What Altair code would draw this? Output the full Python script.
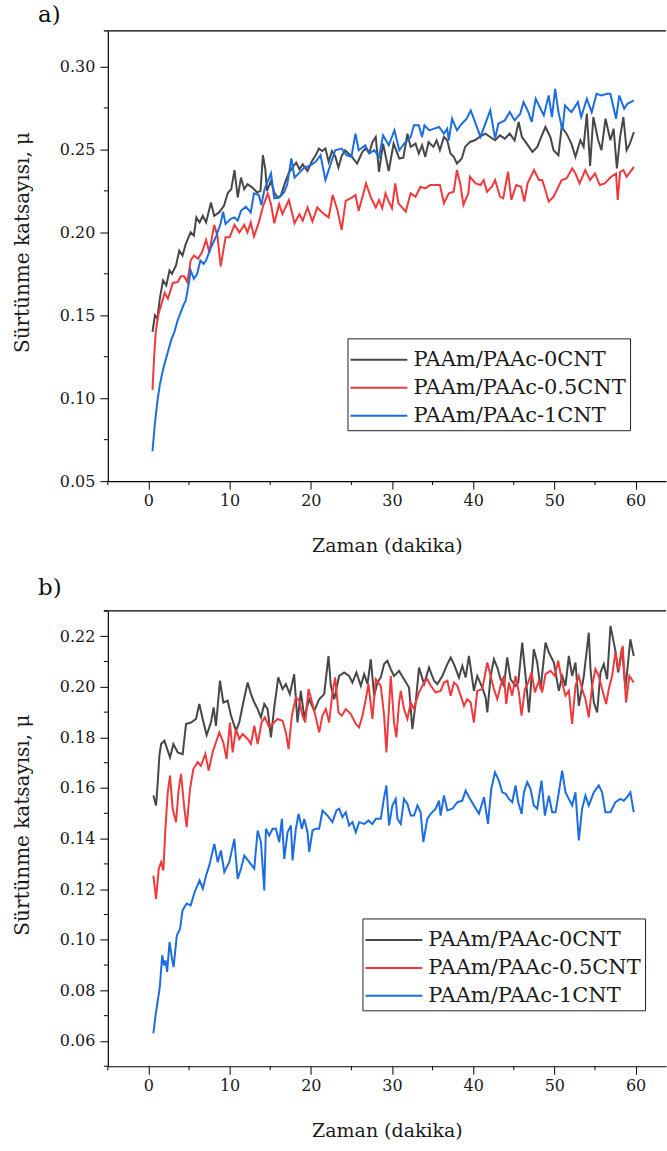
import altair as alt
import pandas as pd

SERIES = ["PAAm/PAAc-0CNT", "PAAm/PAAc-0.5CNT", "PAAm/PAAc-1CNT"]
COLORS = ["#474747", "#ef3a3d", "#1c6ee0"]
FONT = "DejaVu Serif"

# ---------------- panel a) ----------------
a_t_0 = [0.5, 0.8, 1.1, 1.4, 1.8, 2.2, 2.6, 2.9, 3.4, 3.8, 4.2, 4.6, 5.2, 5.6, 5.9, 6.3, 6.7, 7.1, 7.7, 8.1,
         8.7, 9.3, 9.8, 10.2, 10.6, 11.0, 11.4, 11.8, 12.2, 12.8, 13.4, 13.8, 14.1, 14.4, 14.6, 15.1, 15.5, 15.9, 16.3, 16.9,
         17.3, 17.8, 18.2, 18.6, 19.0, 19.6, 20.2, 20.6, 21.0, 21.4, 21.8, 22.2, 22.6, 23.0, 23.4, 23.8, 24.2, 24.9, 25.7, 26.3,
         26.7, 27.2, 27.6, 28.0, 28.4, 28.9, 29.6, 30.2, 30.9, 31.4, 31.9, 32.3, 32.9, 33.3, 33.7, 34.1, 34.5, 35.1, 35.5, 35.9,
         36.4, 36.8, 37.2, 37.6, 38.0, 38.6, 39.0, 39.6, 40.2, 40.8, 41.5, 42.1, 42.7, 43.3, 43.9, 44.5, 45.1, 45.6, 46.0, 46.6,
         47.3, 47.9, 48.3, 48.9, 49.5, 49.9, 50.5, 50.9, 51.5, 52.1, 52.6, 53.2, 53.6, 54.0, 54.4, 54.8, 55.4, 55.8, 56.3, 56.9,
         57.3, 57.7, 58.1, 58.5, 58.9, 59.3, 59.8]
a_mu_0 = [0.140, 0.150, 0.148, 0.160, 0.171, 0.168, 0.177, 0.175, 0.180, 0.189, 0.186, 0.193, 0.200, 0.198, 0.209, 0.206, 0.210, 0.206, 0.218, 0.210,
          0.212, 0.216, 0.224, 0.226, 0.2375, 0.221, 0.233, 0.226, 0.229, 0.227, 0.224, 0.225, 0.2465, 0.238, 0.225, 0.231, 0.224, 0.221, 0.222, 0.231,
          0.236, 0.2395, 0.242, 0.238, 0.241, 0.237, 0.2435, 0.2465, 0.2505, 0.249, 0.2505, 0.2425, 0.249, 0.246, 0.239, 0.246, 0.2495, 0.2465, 0.2415, 0.248,
          0.2505, 0.248, 0.2545, 0.2575, 0.2365, 0.2535, 0.237, 0.2535, 0.2445, 0.245, 0.2595, 0.2515, 0.2535, 0.2475, 0.2525, 0.2455, 0.2545, 0.2515, 0.2555, 0.2495,
          0.2575, 0.2555, 0.2475, 0.2455, 0.2415, 0.2445, 0.2515, 0.2545, 0.2555, 0.2575, 0.2595, 0.2575, 0.2555, 0.2585, 0.2565, 0.2595, 0.2555, 0.2665, 0.2575, 0.2535,
          0.2485, 0.2515, 0.2565, 0.2635, 0.2575, 0.2495, 0.2465, 0.2635, 0.2595, 0.2535, 0.2455, 0.2555, 0.2515, 0.2715, 0.2400, 0.2695, 0.2555, 0.2495, 0.2685, 0.2555,
          0.2625, 0.2385, 0.2575, 0.2695, 0.2495, 0.2535, 0.2605]

a_t_05 = [0.5, 0.7, 0.9, 1.2, 1.5, 2.0, 2.4, 3.0, 3.6, 4.0, 4.4, 4.8, 5.2, 5.6, 6.1, 6.6, 7.1, 7.5, 8.1, 8.5,
          8.9, 9.5, 10.0, 10.6, 11.2, 11.8, 12.2, 12.6, 13.0, 13.6, 14.1, 14.7, 15.1, 15.5, 16.1, 16.5, 17.3, 18.0, 18.6, 19.0,
          19.6, 20.2, 20.8, 21.4, 22.2, 22.7, 23.3, 23.8, 24.3, 25.1, 25.5, 25.9, 26.8, 27.4, 28.0, 28.4, 28.8, 29.2, 29.6, 30.0,
          30.4, 30.8, 31.7, 32.3, 32.9, 33.5, 34.1, 34.7, 35.3, 35.9, 36.4, 37.0, 37.6, 38.0, 38.4, 38.8, 39.4, 39.6, 40.3, 40.9,
          41.3, 41.7, 42.3, 42.7, 43.3, 43.7, 44.3, 44.7, 45.3, 45.9, 46.3, 46.7, 47.5, 48.1, 48.5, 48.9, 49.3, 49.9, 50.5, 50.9,
          51.5, 52.2, 52.6, 53.1, 53.8, 54.4, 55.0, 55.6, 56.2, 57.0, 57.6, 57.8, 58.1, 58.5, 58.9, 59.8]
a_mu_05 = [0.105, 0.125, 0.140, 0.150, 0.155, 0.1635, 0.160, 0.1695, 0.170, 0.1735, 0.1735, 0.170, 0.183, 0.186, 0.184, 0.188, 0.1955, 0.188, 0.2045, 0.198,
           0.1795, 0.197, 0.197, 0.2045, 0.200, 0.2045, 0.200, 0.206, 0.1975, 0.206, 0.2155, 0.2235, 0.217, 0.2055, 0.217, 0.211, 0.2195, 0.2055, 0.211, 0.207,
           0.215, 0.2065, 0.215, 0.212, 0.209, 0.2225, 0.213, 0.2015, 0.219, 0.221, 0.2225, 0.213, 0.2295, 0.221, 0.215, 0.2195, 0.2145, 0.2235, 0.2185, 0.2145,
           0.2295, 0.2175, 0.2125, 0.2235, 0.2215, 0.2275, 0.2265, 0.2285, 0.2285, 0.2285, 0.2175, 0.2235, 0.2245, 0.2375, 0.2295, 0.2165, 0.2235, 0.2335, 0.2295, 0.2285,
           0.2315, 0.2245, 0.2275, 0.2315, 0.2215, 0.2205, 0.2365, 0.2195, 0.2285, 0.2275, 0.2185, 0.2295, 0.2375, 0.2315, 0.2315, 0.2255, 0.2185, 0.2215, 0.2275, 0.2315,
           0.2325, 0.2385, 0.2355, 0.2295, 0.2375, 0.2315, 0.2355, 0.2285, 0.2295, 0.2335, 0.2355, 0.2195, 0.2365, 0.2375, 0.2335, 0.2395]

a_t_1 = [0.5, 0.8, 1.1, 1.4, 1.7, 2.0, 2.4, 2.8, 3.2, 3.6, 4.0, 4.3, 4.6, 5.0, 5.2, 5.6, 6.0, 6.4, 6.8, 7.1,
         7.7, 8.3, 8.9, 9.2, 9.5, 10.1, 10.6, 11.0, 11.4, 12.0, 12.6, 13.0, 13.6, 13.9, 14.3, 15.1, 15.5, 16.1, 16.7, 17.1,
         17.6, 18.0, 18.6, 19.2, 19.8, 20.6, 21.2, 21.8, 22.2, 23.0, 23.8, 24.4, 25.0, 25.5, 25.9, 26.7, 27.2, 27.8, 28.4, 28.9,
         29.6, 30.3, 30.9, 31.5, 32.3, 32.7, 33.3, 33.7, 34.0, 34.6, 35.2, 35.8, 36.4, 36.8, 37.0, 37.4, 38.0, 38.6, 39.2, 39.7,
         40.3, 40.9, 41.5, 42.1, 42.7, 43.1, 43.9, 44.5, 45.1, 45.8, 46.2, 46.8, 47.2, 47.7, 48.3, 48.7, 49.3, 49.7, 50.1, 50.5,
         51.0, 51.3, 52.1, 52.9, 53.3, 54.0, 54.6, 55.2, 55.8, 56.5, 56.9, 57.6, 58.0, 58.6, 59.0, 59.8]
a_mu_1 = [0.068, 0.085, 0.098, 0.108, 0.115, 0.121, 0.128, 0.135, 0.140, 0.147, 0.152, 0.156, 0.159, 0.170, 0.177, 0.172, 0.175, 0.183, 0.181, 0.183,
          0.191, 0.197, 0.2055, 0.2125, 0.205, 0.208, 0.209, 0.207, 0.213, 0.2155, 0.212, 0.2235, 0.2225, 0.2165, 0.226, 0.2355, 0.2205, 0.221, 0.224, 0.229,
          0.2445, 0.233, 0.236, 0.239, 0.240, 0.2425, 0.2465, 0.2315, 0.2375, 0.2495, 0.2505, 0.2465, 0.2455, 0.2595, 0.2495, 0.2525, 0.2475, 0.2495, 0.2455, 0.2585,
          0.2525, 0.2615, 0.2495, 0.2535, 0.2575, 0.2645, 0.2645, 0.2575, 0.2645, 0.2615, 0.2625, 0.2635, 0.2595, 0.2625, 0.2555, 0.2685, 0.2615, 0.2655, 0.2685, 0.2735,
          0.2655, 0.2575, 0.2655, 0.2735, 0.2565, 0.2655, 0.2675, 0.2725, 0.2675, 0.2715, 0.2785, 0.2725, 0.2665, 0.2805, 0.2745, 0.2705, 0.2825, 0.2695, 0.2865, 0.2725,
          0.2615, 0.2765, 0.2725, 0.2785, 0.2695, 0.2805, 0.2725, 0.2835, 0.2825, 0.2835, 0.2835, 0.2685, 0.2825, 0.2745, 0.2775, 0.2795]

# ---------------- panel b) ----------------
b_t_0 = [0.61, 0.94, 1.15, 1.35, 1.56, 1.97, 2.38, 2.66, 3.07, 3.61, 4.22, 4.63, 5.25, 5.86, 6.27, 6.68, 7.17, 7.70, 8.03, 8.32,
         8.81, 9.22, 9.76, 10.17, 10.78, 11.19, 11.68, 12.22, 12.63, 13.04, 13.45, 13.86, 14.27, 14.68, 15.09, 15.50, 15.99, 16.52, 16.93, 17.42,
         17.95, 18.36, 18.77, 19.19, 19.80, 20.42, 21.03, 21.65, 22.18, 22.47, 22.88, 23.49, 24.11, 24.72, 25.13, 25.62, 26.16, 26.57, 26.98, 27.39,
         27.80, 28.21, 28.62, 29.03, 29.43, 29.85, 30.25, 30.87, 31.48, 32.10, 32.51, 32.92, 33.33, 33.95, 34.56, 35.18, 35.59, 36.20, 36.82, 37.23,
         37.63, 38.25, 38.66, 39.07, 39.48, 40.09, 40.50, 41.12, 41.53, 41.74, 42.15, 42.56, 42.97, 43.37, 43.79, 44.19, 44.61, 45.22, 45.55, 46.04,
         46.45, 46.86, 47.47, 47.89, 48.30, 48.91, 49.32, 49.94, 50.55, 50.96, 51.37, 51.78, 52.19, 52.60, 53.01, 53.63, 54.24, 54.45, 54.86, 55.27,
         55.68, 56.09, 56.50, 56.91, 57.52, 57.85, 58.34, 58.75, 59.36, 59.78]
b_mu_0 = [0.1570, 0.1531, 0.1623, 0.1728, 0.1774, 0.1787, 0.1748, 0.1721, 0.1774, 0.1741, 0.1734, 0.1853, 0.1859, 0.1873, 0.1932, 0.1873, 0.1809, 0.1859, 0.1919, 0.1846,
          0.2024, 0.1938, 0.1945, 0.1886, 0.1827, 0.1859, 0.1938, 0.2017, 0.1971, 0.1938, 0.1912, 0.1879, 0.1932, 0.1912, 0.1800, 0.1919, 0.2037, 0.1991, 0.2011, 0.1971,
          0.2050, 0.1859, 0.1984, 0.1879, 0.1951, 0.1905, 0.1951, 0.1971, 0.2122, 0.2004, 0.1951, 0.2043, 0.2057, 0.2043, 0.2017, 0.2057, 0.2004, 0.2050, 0.2011, 0.2109,
          0.1965, 0.2017, 0.2037, 0.2090, 0.2103, 0.2070, 0.2043, 0.2063, 0.2030, 0.1997, 0.1833, 0.1938, 0.2076, 0.2011, 0.2076, 0.2024, 0.2011, 0.2043, 0.2090, 0.2116,
          0.2090, 0.2037, 0.2083, 0.2037, 0.2122, 0.1984, 0.2043, 0.1997, 0.1958, 0.1899, 0.2043, 0.2109, 0.2076, 0.2030, 0.2004, 0.2116, 0.2030, 0.2004, 0.2017, 0.2175,
          0.2043, 0.1899, 0.2149, 0.2096, 0.1991, 0.2175, 0.2136, 0.2096, 0.1984, 0.2043, 0.2004, 0.2122, 0.2043, 0.2096, 0.1925, 0.2043, 0.2214, 0.2070, 0.1938, 0.1899,
          0.2057, 0.2090, 0.2030, 0.2241, 0.2142, 0.2057, 0.2155, 0.1991, 0.2188, 0.2122]

b_t_05 = [0.61, 0.94, 1.27, 1.56, 1.84, 2.09, 2.38, 2.66, 2.99, 3.40, 3.73, 4.02, 4.43, 4.71, 5.12, 5.53, 6.07, 6.47, 7.01, 7.42,
          7.91, 8.32, 8.73, 9.22, 9.63, 10.04, 10.37, 10.78, 11.19, 11.60, 12.22, 12.63, 13.04, 13.45, 13.94, 14.35, 14.88, 15.29, 15.90, 16.52,
          16.93, 17.26, 17.67, 18.16, 18.57, 18.98, 19.31, 19.72, 20.21, 20.62, 21.03, 21.44, 21.85, 22.26, 22.67, 23.00, 23.41, 23.82, 24.31, 24.93,
          25.54, 25.95, 26.36, 26.77, 27.10, 27.59, 28.00, 28.62, 29.03, 29.31, 29.64, 29.85, 30.25, 30.54, 30.87, 31.08, 31.48, 31.90, 32.31, 32.72,
          32.92, 33.33, 33.95, 34.35, 34.77, 35.38, 35.99, 36.40, 36.82, 37.23, 37.63, 38.05, 38.46, 38.87, 39.27, 39.69, 40.09, 40.50, 41.12, 41.74,
          42.15, 42.56, 42.97, 43.37, 43.79, 44.07, 44.40, 44.81, 45.22, 45.63, 45.96, 46.37, 46.78, 47.19, 47.60, 48.09, 48.50, 48.91, 49.52, 50.06,
          50.47, 50.96, 51.37, 51.78, 52.19, 52.60, 53.01, 53.42, 53.83, 54.24, 54.65, 55.06, 55.47, 55.88, 56.37, 56.70, 57.11, 57.52, 57.93, 58.42,
          58.83, 59.24, 59.78]
b_mu_05 = [0.1254, 0.1162, 0.1281, 0.1307, 0.1274, 0.1439, 0.1583, 0.1649, 0.1517, 0.1465, 0.1596, 0.1656, 0.1517, 0.1445, 0.1596, 0.1675, 0.1702, 0.1688, 0.1735, 0.1669,
           0.1741, 0.1781, 0.1820, 0.1781, 0.1715, 0.1859, 0.1741, 0.1833, 0.1794, 0.1813, 0.1794, 0.1774, 0.1846, 0.1774, 0.1859, 0.1879, 0.1840, 0.1853, 0.1873, 0.1866,
           0.1820, 0.1754, 0.1886, 0.1958, 0.1945, 0.1886, 0.1859, 0.1991, 0.1932, 0.1879, 0.1820, 0.1886, 0.1912, 0.1859, 0.1978, 0.2037, 0.1899, 0.1886, 0.1912, 0.1892,
           0.1853, 0.1840, 0.1886, 0.1951, 0.2011, 0.1873, 0.2030, 0.2004, 0.1886, 0.1741, 0.1925, 0.2043, 0.1859, 0.1800, 0.1938, 0.1984, 0.1912, 0.1873, 0.1938, 0.1912,
           0.1938, 0.1978, 0.2017, 0.2030, 0.2004, 0.1978, 0.1984, 0.2017, 0.2024, 0.1965, 0.2017, 0.2004, 0.1965, 0.1925, 0.1951, 0.1938, 0.1859, 0.1984, 0.1991, 0.2096,
           0.2043, 0.1991, 0.1951, 0.2004, 0.2043, 0.1932, 0.2017, 0.1965, 0.2043, 0.1978, 0.1886, 0.1991, 0.2017, 0.2057, 0.1978, 0.2024, 0.1978, 0.2050, 0.2063, 0.2043,
           0.2103, 0.2017, 0.1965, 0.1984, 0.1853, 0.2004, 0.2043, 0.1991, 0.1951, 0.1879, 0.2004, 0.2070, 0.2043, 0.1991, 0.1932, 0.1991, 0.2043, 0.2136, 0.2063, 0.2162,
           0.1938, 0.2043, 0.2017]

b_t_1 = [0.61, 0.85, 1.10, 1.40, 1.70, 1.90, 2.10, 2.30, 2.60, 2.90, 3.10, 3.50, 3.90, 4.20, 4.70, 5.20, 5.70, 6.30, 6.70, 7.10,
         7.50, 8.12, 8.53, 8.93, 9.35, 9.96, 10.58, 10.99, 11.40, 11.81, 12.42, 13.04, 13.45, 13.86, 14.27, 14.47, 14.88, 15.29, 15.70, 16.11,
         16.44, 16.73, 17.14, 17.55, 17.75, 18.16, 18.49, 18.90, 19.19, 19.60, 19.80, 20.21, 20.62, 21.03, 21.44, 22.06, 22.67, 23.16, 23.49, 23.90,
         24.31, 24.72, 25.13, 25.54, 25.95, 26.57, 27.10, 27.59, 28.00, 28.62, 29.03, 29.31, 29.64, 30.05, 30.46, 30.67, 31.08, 31.48, 31.90, 32.31,
         32.72, 33.13, 33.53, 33.86, 34.35, 34.77, 35.38, 35.79, 35.99, 36.40, 36.82, 37.43, 38.05, 38.66, 39.07, 39.48, 40.09, 40.71, 41.33, 41.82,
         42.23, 42.68, 43.17, 43.58, 43.99, 44.40, 44.81, 45.22, 45.55, 45.96, 46.25, 46.66, 47.07, 47.47, 47.89, 48.42, 48.83, 49.32, 49.73, 50.14,
         50.55, 50.96, 51.37, 51.78, 52.19, 52.60, 53.01, 53.42, 53.83, 54.24, 54.86, 55.47, 55.88, 56.29, 56.91, 57.52, 58.13, 58.55, 58.96, 59.36,
         59.78]
b_mu_1 = [0.0630, 0.0695, 0.0748, 0.0814, 0.0939, 0.0899, 0.0919, 0.0873, 0.0991, 0.0926, 0.0892, 0.1018, 0.1044, 0.1116, 0.1143, 0.1136, 0.1189, 0.1235, 0.1202, 0.1254,
          0.1294, 0.1379, 0.1307, 0.1353, 0.1268, 0.1307, 0.1399, 0.1241, 0.1281, 0.1333, 0.1307, 0.1281, 0.1432, 0.1386, 0.1195, 0.1439, 0.1412, 0.1439, 0.1439, 0.1386,
          0.1478, 0.1320, 0.1425, 0.1452, 0.1314, 0.1439, 0.1498, 0.1439, 0.1478, 0.1425, 0.1347, 0.1432, 0.1439, 0.1439, 0.1511, 0.1491, 0.1465, 0.1511, 0.1518, 0.1485,
          0.1504, 0.1452, 0.1465, 0.1425, 0.1465, 0.1458, 0.1471, 0.1458, 0.1478, 0.1478, 0.1564, 0.1610, 0.1452, 0.1531, 0.1557, 0.1478, 0.1458, 0.1557, 0.1537, 0.1491,
          0.1491, 0.1531, 0.1504, 0.1386, 0.1478, 0.1498, 0.1518, 0.1550, 0.1491, 0.1570, 0.1511, 0.1518, 0.1544, 0.1550, 0.1590, 0.1564, 0.1531, 0.1498, 0.1564, 0.1458,
          0.1596, 0.1662, 0.1629, 0.1583, 0.1577, 0.1557, 0.1544, 0.1610, 0.1544, 0.1498, 0.1583, 0.1623, 0.1596, 0.1531, 0.1518, 0.1629, 0.1491, 0.1570, 0.1504, 0.1504,
          0.1583, 0.1669, 0.1583, 0.1557, 0.1531, 0.1583, 0.1393, 0.1518, 0.1570, 0.1531, 0.1583, 0.1610, 0.1583, 0.1504, 0.1504, 0.1544, 0.1557, 0.1550, 0.1564, 0.1583,
          0.1504]

# ---------------- axes ----------------
X_DOMAIN = [-5, 63.75]
X_MAJOR = [0, 10, 20, 30, 40, 50, 60]
X_MINOR = [-5, 5, 15, 25, 35, 45, 55]

A_Y_DOMAIN = [0.05, 0.3215]
A_Y_MAJOR = [0.05, 0.10, 0.15, 0.20, 0.25, 0.30]
A_Y_MINOR = [0.075, 0.125, 0.175, 0.225, 0.275]

B_Y_DOMAIN = [0.05, 0.23]
B_Y_MAJOR = [0.06, 0.08, 0.10, 0.12, 0.14, 0.16, 0.18, 0.20, 0.22]
B_Y_MINOR = [0.05, 0.07, 0.09, 0.11, 0.13, 0.15, 0.17, 0.19, 0.21, 0.23]

W = 559

# long horizontal line used as the legend key (unit coordinates, scaled by symbolSize)
LEGEND_KEY = "M-1.727,0H1.727"


def series_frame(pairs):
    rows = []
    for name, (ts, mus) in zip(SERIES, pairs):
        for t, m in zip(ts, mus):
            rows.append({"t": t, "mu": m, "Numune": name})
    return pd.DataFrame(rows)


def panel(pairs, y_domain, y_major, y_minor, height, label, title_offset, legend_x, legend_y):
    df = series_frame(pairs)
    x_scale = alt.Scale(domain=X_DOMAIN, nice=False, zero=False)
    y_scale = alt.Scale(domain=y_domain, nice=False, zero=False)

    lines = alt.Chart(df).mark_line(strokeWidth=2, clip=True).encode(
        x=alt.X("t:Q", scale=x_scale,
                axis=alt.Axis(values=X_MAJOR, format="d", title="Zaman (dakika)",
                              tickSize=8, labelPadding=3, titlePadding=28)),
        y=alt.Y("mu:Q", scale=y_scale,
                axis=alt.Axis(values=y_major, format=".2f", title="Sürtünme katsayısı, μ",
                              tickSize=8, labelPadding=5, titleX=-79, titleY=height / 2 - 14,
                              titleBaseline="alphabetic", titleFontSize=20)),
        color=alt.Color("Numune:N",
                        scale=alt.Scale(domain=SERIES, range=COLORS),
                        sort=SERIES,
                        legend=alt.Legend(title=None, orient="none", legendX=legend_x, legendY=legend_y,
                                          symbolType=LEGEND_KEY, symbolSize=1089, symbolStrokeWidth=2,
                                          symbolOffset=10,
                                          labelFont=FONT, labelFontSize=21, labelColor="#1a1a1a",
                                          labelLimit=0, labelOffset=17, rowPadding=0, padding=4,
                                          strokeColor="#222222", fillColor="white")),
        order=alt.Order("t:Q"),
    )

    x_minor = alt.Chart(pd.DataFrame({"t": X_MINOR})).mark_rule(color="black", strokeWidth=1).encode(
        x=alt.X("t:Q", scale=x_scale),
        y=alt.value(height),
        y2=alt.value(height + 4),
    )
    y_minor = alt.Chart(pd.DataFrame({"mu": y_minor})).mark_rule(color="black", strokeWidth=1).encode(
        y=alt.Y("mu:Q", scale=y_scale),
        x=alt.value(-4),
        x2=alt.value(0),
    )
    top_line = alt.Chart(pd.DataFrame({"k": [0]})).mark_rule(color="black", strokeWidth=1.2).encode(
        x=alt.value(-4), x2=alt.value(W), y=alt.value(0)
    )

    return alt.layer(lines, x_minor, y_minor, top_line).properties(
        width=W, height=height,
        title=alt.TitleParams(label, anchor="start", frame="group", dx=-70, offset=title_offset,
                              fontSize=23, font=FONT, fontWeight="normal", color="#111111"),
    )


panel_a = panel([(a_t_0, a_mu_0), (a_t_05, a_mu_05), (a_t_1, a_mu_1)],
                A_Y_DOMAIN, A_Y_MAJOR, A_Y_MINOR, 451, "a)", 3, 240, 308)
panel_b = panel([(b_t_0, b_mu_0), (b_t_05, b_mu_05), (b_t_1, b_mu_1)],
                B_Y_DOMAIN, B_Y_MAJOR, B_Y_MINOR, 456, "b)", 10, 255, 308)

chart = alt.vconcat(panel_a, panel_b, spacing=22).resolve_legend(color="independent").properties(
    padding={"left": 13, "top": 3, "right": 0, "bottom": 0},
).configure_view(stroke=None).configure_axis(
    grid=False,
    domainColor="black", domainWidth=1.2,
    tickColor="black", tickWidth=1,
    labelFont=FONT, labelFontSize=16, labelColor="#1a1a1a",
    titleFont=FONT, titleFontSize=19, titleFontWeight="normal", titleColor="#1a1a1a",
)

chart.save("out.html", embed_options={"renderer": "svg", "actions": False})
